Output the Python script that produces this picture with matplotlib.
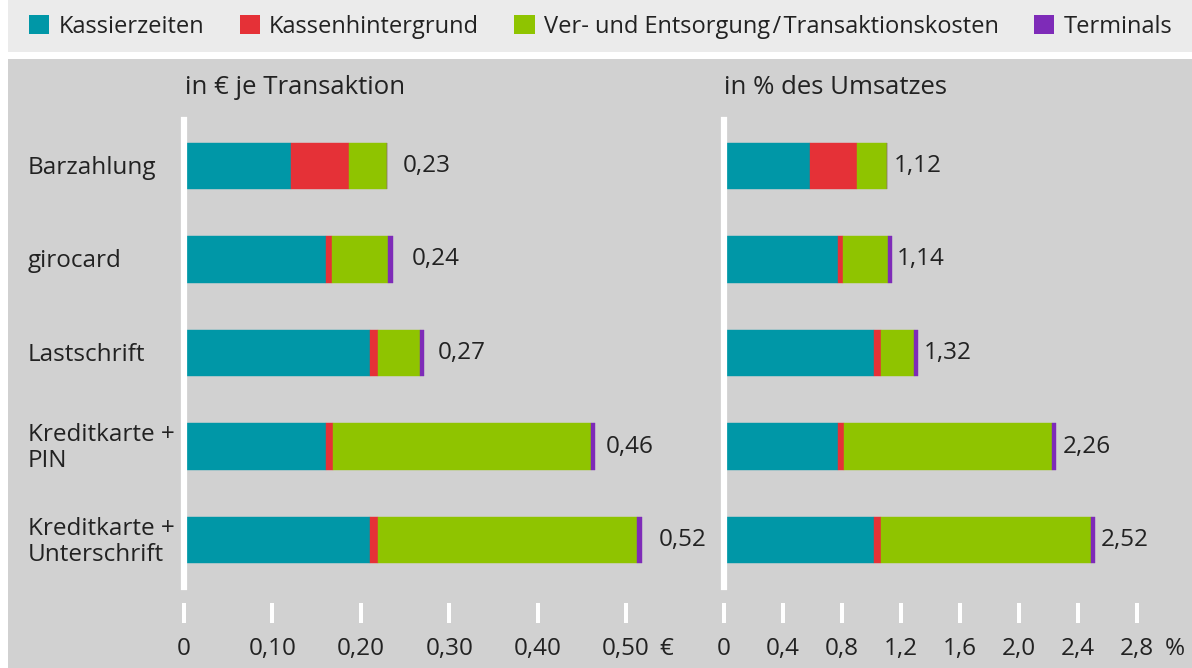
import matplotlib
matplotlib.use("Agg")
import matplotlib.pyplot as plt
from matplotlib.patches import Rectangle, Patch
import matplotlib.transforms as mtransforms

plt.rcParams['font.family'] = ['Open Sans', 'DejaVu Sans']

# Daten
kategorien = ["Barzahlung", "girocard", "Lastschrift",
              "Kreditkarte +\nPIN", "Kreditkarte +\nUnterschrift"]
serien = ["Kassierzeiten", "Kassenhintergrund",
          "Ver- und Entsorgung\u200a/\u200aTransaktionskosten", "Terminals"]
farben = ["#0097a7", "#e53137", "#8fc400", "#7e2bb8"]

# in € je Transaktion
euro_kassierzeiten = [0.121, 0.161, 0.210, 0.161, 0.210]
euro_hintergrund = [0.066, 0.006, 0.009, 0.007, 0.009]
euro_entsorgung = [0.043, 0.064, 0.048, 0.292, 0.293]
euro_terminals = [0.0, 0.005, 0.005, 0.005, 0.006]
euro_summe = [0.23, 0.24, 0.27, 0.46, 0.52]
euro_ticks = [0, 0.10, 0.20, 0.30, 0.40, 0.50]
euro_ticklabels = ["0", "0,10", "0,20", "0,30", "0,40", "0,50"]

# in % des Umsatzes
proz_kassierzeiten = [0.586, 0.776, 1.020, 0.776, 1.020]
proz_hintergrund = [0.319, 0.034, 0.048, 0.041, 0.048]
proz_entsorgung = [0.205, 0.305, 0.224, 1.410, 1.423]
proz_terminals = [0.0, 0.027, 0.027, 0.027, 0.027]
proz_summe = [1.12, 1.14, 1.32, 2.26, 2.52]
proz_ticks = [0, 0.4, 0.8, 1.2, 1.6, 2.0, 2.4, 2.8]
proz_ticklabels = ["0", "0,4", "0,8", "1,2", "1,6", "2,0", "2,4", "2,8"]

W, H = 1192, 668
fig = plt.figure(figsize=(W / 100, H / 100), dpi=100)
fig.patch.set_facecolor("white")


def fx(px):
    return px / W


def fy(py):
    return 1 - py / H


# Hintergruende
fig.patches.append(Rectangle((fx(8), fy(52)), 1, 52 / H, transform=fig.transFigure,
                             facecolor="#ebebeb", edgecolor="none", zorder=-5))
fig.patches.append(Rectangle((fx(8), 0), 1, fy(59), transform=fig.transFigure,
                             facecolor="#d1d1d1", edgecolor="none", zorder=-5))

textfarbe = "#222222"
ax_top, ax_bot = 100, 603
ylim_oben = -(166 - ax_top) / 93.5
ylim_unten = 4 + (ax_bot - 540) / 93.5
fs = 17.5
tick_len, tick_pad = 14.4, 10  # pt


def panel(x0px, skala, xmax, werte, summen, ticks, ticklabels, abstand):
    ax = fig.add_axes([fx(x0px), fy(ax_bot), xmax * skala / W, (ax_bot - ax_top) / H])
    ax.set_facecolor("none")
    ax.set_xlim(0, xmax)
    ax.set_ylim(ylim_unten, ylim_oben)
    y = list(range(len(kategorien)))
    links = [0] * len(y)
    for vals, farbe in zip(werte, farben):
        ax.barh(y, vals, left=links, height=0.5, color=farbe,
                edgecolor=farbe, linewidth=0.3, zorder=3)
        links = [a + b for a, b in zip(links, vals)]
    for yi, s in zip(y, summen):
        ax.annotate(f"{s:.2f}".replace(".", ","), (s, yi), xytext=(abstand, 0),
                    textcoords="offset points", va="center", ha="left",
                    fontsize=fs, color=textfarbe)
    for sp in ax.spines.values():
        sp.set_visible(False)
    ax.set_yticks([])
    ax.set_xticks(ticks)
    ax.set_xticklabels(ticklabels)
    ax.tick_params(axis="x", direction="out", length=tick_len, width=2.9, color="white",
                   pad=tick_pad, labelsize=fs, labelcolor=textfarbe)
    # weisse Nulllinie
    ax.axvline(0, ymin=(ax_bot - 587) / (ax_bot - ax_top),
               ymax=(ax_bot - 120) / (ax_bot - ax_top),
               color="white", linewidth=4.5, zorder=5, clip_on=False)
    return ax


ax1 = panel(184, 884, 0.58,
            [euro_kassierzeiten, euro_hintergrund, euro_entsorgung, euro_terminals],
            euro_summe, euro_ticks, euro_ticklabels, 11)
ax2 = panel(723.5, 147.5, 3.0,
            [proz_kassierzeiten, proz_hintergrund, proz_entsorgung, proz_terminals],
            proz_summe, proz_ticks, proz_ticklabels, 4)

# Kategorien links
trans = mtransforms.blended_transform_factory(fig.transFigure, ax1.transData)
for i, k in enumerate(kategorien):
    ax1.text(fx(28), i + 0.02, k, transform=trans, ha="left", va="center",
             fontsize=fs, color=textfarbe, linespacing=1.1)

# Titel
fig.text(fx(185), fy(88), "in € je Transaktion", ha="left", va="center",
         fontsize=18.5, color=textfarbe)
fig.text(fx(724), fy(88), "in % des Umsatzes", ha="left", va="center",
         fontsize=18.5, color=textfarbe)

# Einheiten, auf Hoehe der Ticklabels
label_top = ax_bot + (tick_len + tick_pad) * 100 / 72
fig.text(fx(666), fy(label_top), "€", ha="center", va="top", fontsize=fs, color=textfarbe)
fig.text(fx(1175), fy(label_top), "%", ha="center", va="top", fontsize=fs, color=textfarbe)

# Legende
handles = [Patch(facecolor=f, edgecolor="none") for f in farben]
fig.legend(handles, serien, loc="center left", bbox_to_anchor=(fx(29), fy(27)),
           ncol=4, frameon=False, fontsize=17, handlelength=0.85, handleheight=0.85,
           handletextpad=0.4, columnspacing=1.5, labelcolor=textfarbe,
           borderaxespad=0, borderpad=0)

fig.savefig("out.png", dpi=100, facecolor=fig.get_facecolor())
